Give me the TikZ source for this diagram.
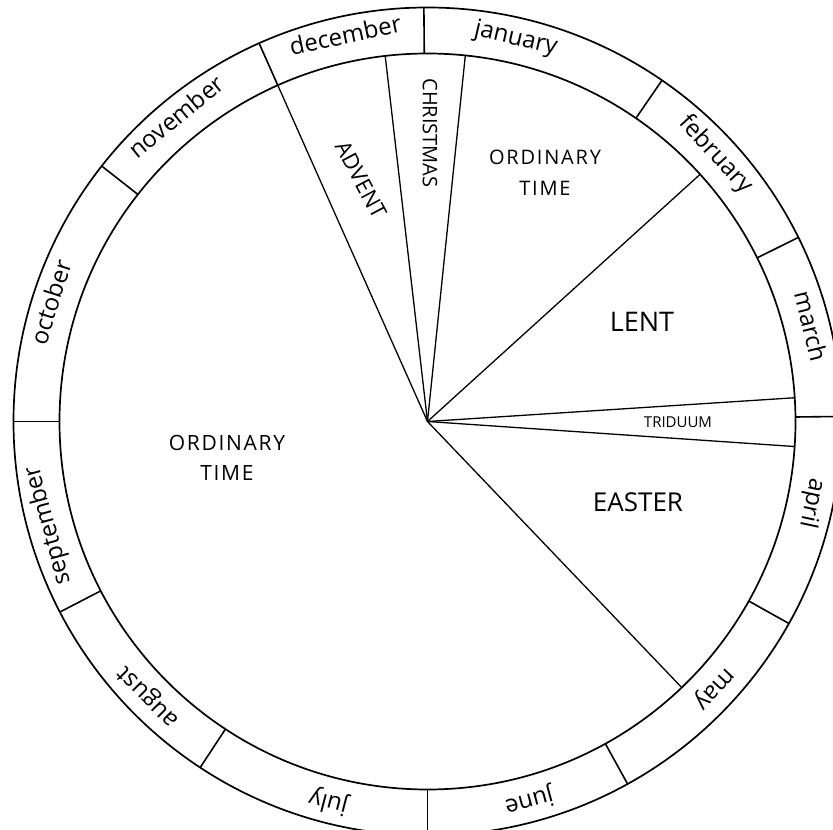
\documentclass[tikz,border=0pt]{standalone}
\usepackage{fontspec}
\setmainfont{Open Sans}
\tikzset{
    rim/.style={line width=1.7pt},
    monthtick/.style={line width=1.6pt},
    seasonline/.style={line width=1.3pt},
    monthlabel/.style={font=\fontsize{24}{24}\selectfont, inner sep=0pt, anchor=mid},
    seasonlabel/.style={inner sep=0pt, align=center},
}

\begin{document}
\begin{tikzpicture}[
    x=1pt, y=1pt,
    bigcaps/.style={seasonlabel,
                    font=\fontsize{21}{30}\selectfont\addfontfeatures{LetterSpace=8}},
]
\useasboundingbox (-427.5,-408.5) rectangle (405.5,421.5);
\coordinate (hub) at (0,0);
% The ring of months.
\draw[rim] (hub) circle[radius=368];
\draw[rim] (hub) circle[radius=414];
\draw[monthtick] (90.5:368) -- (90.5:414);
\draw[monthtick] (55.5:368) -- (55.5:414);
\draw[monthtick] (26.4:368) -- (26.4:414);
\draw[monthtick] (0.7:368) -- (0.7:414);
\draw[monthtick] (-29.2:368) -- (-29.2:414);
\draw[monthtick] (-61.1:368) -- (-61.1:414);
\draw[monthtick] (-90:368) -- (-90:414);
\draw[monthtick] (-123.3:368) -- (-123.3:414);
\draw[monthtick] (-152.6:368) -- (-152.6:414);
\draw[monthtick] (180:368) -- (180:414);
\draw[monthtick] (141.9:368) -- (141.9:414);
\draw[monthtick] (114:368) -- (114:414);
% Month names, tops facing out.
\node[monthlabel, rotate=-13] (jan) at (77:389) {january};
\node[monthlabel, rotate=-47.2] (feb) at (42.8:389) {february};
\node[monthlabel, rotate=-76] (mar) at (14:389) {march};
\node[monthlabel, rotate=-102] (apr) at (-12:389) {april};
\node[monthlabel, rotate=-133] (may) at (-43:389) {may};
\node[monthlabel, rotate=-165] (jun) at (-75:389) {june};
\node[monthlabel, rotate=165.4] (jul) at (-104.6:389) {july};
\node[monthlabel, rotate=134.6] (aug) at (-135.4:389) {august};
\node[monthlabel, rotate=105.3] (sep) at (-164.7:389) {september};
\node[monthlabel, rotate=72.4] (oct) at (162.4:389) {october};
\node[monthlabel, rotate=39.5] (nov) at (129.5:389) {november};
\node[monthlabel, rotate=12] (dec) at (102:389) {december};
% Seasons.
\draw[seasonline] (hub) -- (114:368);
\draw[seasonline] (hub) -- (96.6:368);
\draw[seasonline] (hub) -- (84.1:368);
\draw[seasonline] (hub) -- (42.2:368);
\draw[seasonline] (hub) -- (3.7:368);
\draw[seasonline] (hub) -- (-3.9:368);
\draw[seasonline] (hub) -- (-46.3:368);
\node[seasonlabel, rotate=-62, font=\fontsize{22}{22}\selectfont] (advent) at (-66.5,241.5) {ADVENT};
\node[seasonlabel, rotate=-90, font=\fontsize{20}{20}\selectfont] (christmas) at (2.5,288.5) {CHRISTMAS};
\node[seasonlabel, font=\fontsize{20}{31}\selectfont\addfontfeatures{LetterSpace=9}] (ordA) at (117.5,248.5) {ORDINARY\\TIME};
\node[seasonlabel, font=\fontsize{27}{27}\selectfont] (lent) at (214.5,99.5) {LENT};
\node[seasonlabel, font=\fontsize{15}{15}\selectfont] (triduum) at (250.5,-0.5) {TRIDUUM};
\node[seasonlabel, font=\fontsize{26}{26}\selectfont] (easter) at (210.5,-80.5) {EASTER};
\node[bigcaps] (ordB) at (-200.5,-36.5) {ORDINARY\\TIME};
\end{tikzpicture}
\end{document}
